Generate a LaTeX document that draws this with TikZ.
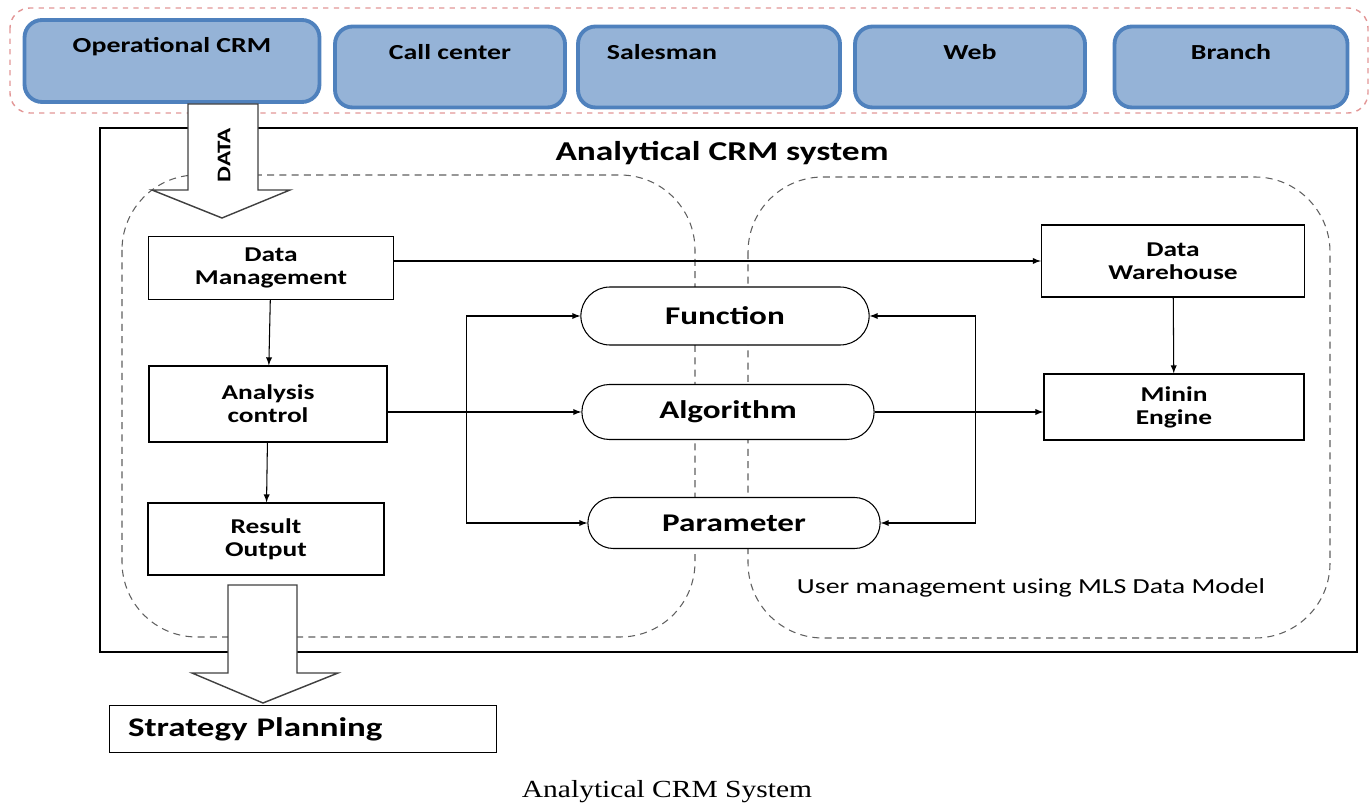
\documentclass[tikz,border=0pt]{standalone}
\usepackage{fontspec}
\setmainfont{Carlito}[FakeStretch=1.3]
\newfontfamily\capfont{Liberation Serif}[FakeStretch=1.2]
\usetikzlibrary{shapes.misc}

\definecolor{srcfill}{RGB}{149,179,215}
\definecolor{srcborder}{RGB}{79,129,189}
\definecolor{groupred}{RGB}{226,150,150}
\definecolor{regiongray}{RGB}{95,95,95}

\begin{document}
\begin{tikzpicture}[x=0.02cm,y=-0.02cm,>=latex]
    \tikzstyle{source}=[draw=srcborder,fill=srcfill,line width=2.2pt,rounded corners=0.35cm,minimum height=1.62cm]
    \tikzstyle{srctext}=[anchor=north,yshift=-0.27cm,font=\bfseries\fontsize{12.2}{14}\selectfont]
    \tikzstyle{box}=[draw,fill=white,line width=0.7pt,align=center,font=\bfseries\fontsize{12}{13}\selectfont]
    \tikzstyle{step box}=[rounded rectangle,draw,fill=white,line width=0.6pt,font=\bfseries\fontsize{14.5}{18}\selectfont]
    \tikzstyle{region}=[draw=regiongray,line width=0.6pt,dash pattern=on 4pt off 3pt,rounded corners=1.5cm]
    \tikzstyle{block arrow}=[draw=black!75,fill=white,line width=0.8pt]

    \useasboundingbox (0,0) rectangle (1372,803);

    % Operational CRM sources
    \draw[groupred,line width=0.8pt,dashed,rounded corners=0.4cm] (10,8) rectangle (1368,113);
    \node[source,minimum width=5.9cm,minimum height=1.64cm,label={[srctext]north:Operational CRM}] (OC) at (172,61) {};
    \node[source,minimum width=4.6cm,label={[srctext]north:Call center}] (CC) at (450,67) {};
    \node[source,minimum width=5.24cm,label={[srctext,xshift=-0.94cm]north:Salesman}] (SM) at (709,67) {};
    \node[source,minimum width=4.6cm,label={[srctext]north:Web}] (WB) at (970,67) {};
    \node[source,minimum width=4.66cm,label={[srctext]north:Branch}] (BR) at (1231,67) {};

    % Analytical CRM system frame
    \draw[line width=0.7pt] (100,128) rectangle (1357,652);
    \node[font=\bfseries\fontsize{15.5}{18}\selectfont] (title) at (722,153) {Analytical CRM system};
    \draw[region] (122,175) rectangle (695,637);
    \draw[region] (748,177) rectangle (1330,638);

    % block arrows in and out
    \draw[block arrow] (188,104) -- (188,190) -- (152,190) -- (222,218) -- (290,190) -- (258,190) -- (258,104) -- cycle;
    \node[rotate=90,font=\bfseries\fontsize{11}{13}\selectfont] (data) at (224,155) {DATA};
    \draw[block arrow] (228,585) -- (228,673) -- (192,673) -- (263,703) -- (338,673) -- (297,673) -- (297,585) -- cycle;

    % left side
    \node[box,minimum width=4.9cm,minimum height=1.26cm] (DM) at (271,268) {Data\\Management};
    \node[box,minimum width=4.76cm,minimum height=1.52cm] (AC) at (268,404) {Analysis\\control};
    \node[box,minimum width=4.72cm,minimum height=1.44cm] (RO) at (266,539) {Result\\Output};

    % middle
    \node[step box,minimum width=6.0cm,minimum height=1.16cm] (Fn) at (725,316) {Function};
    \node[step box,minimum width=6.08cm,minimum height=1.1cm] (Al) at (728,412) {Algorithm};
    \node[step box,minimum width=6.08cm,minimum height=1.02cm] (Pm) at (734,523) {Parameter};

    % right side
    \node[box,minimum width=5.26cm,minimum height=1.44cm] (DW) at (1173,261) {Data\\Warehouse};
    \node[box,minimum width=5.2cm,minimum height=1.32cm] (ME) at (1174,407) {Minin\\Engine};
    \node[font=\fontsize{12.2}{14}\selectfont] (um) at (1031,588) {User management using MLS Data Model};

    \node[box,anchor=center,minimum height=0.94cm,text width=7.0cm,inner xsep=0.37cm,align=left,font=\bfseries\fontsize{15.3}{18}\selectfont] (SP) at (303,729) {Strategy Planning};

    % connections
    \draw[->,line width=0.6pt] (DM.east |- DW.west) -- (DW.west);
    \draw[->,line width=0.6pt] (DM) -- (AC);
    \draw[->,line width=0.6pt] (AC) -- (RO);
    \draw[->,line width=0.6pt] (AC.east |- Al.west) -- (Al.west);
    \draw[->,line width=0.6pt] (Al.east) -- (Al.east -| ME.west);
    \draw[->,line width=0.6pt] (DW) -- (ME);
    \draw[<->,line width=0.6pt] (Fn.west) -- ++(-114,0) |- (Pm.west);
    \draw[<->,line width=0.6pt] (Fn.east) -- ++(106,0) |- (Pm.east);

    \node[font=\capfont\fontsize{14}{16}\selectfont] (cap) at (667,792) {Analytical CRM System};
\end{tikzpicture}
\end{document}
